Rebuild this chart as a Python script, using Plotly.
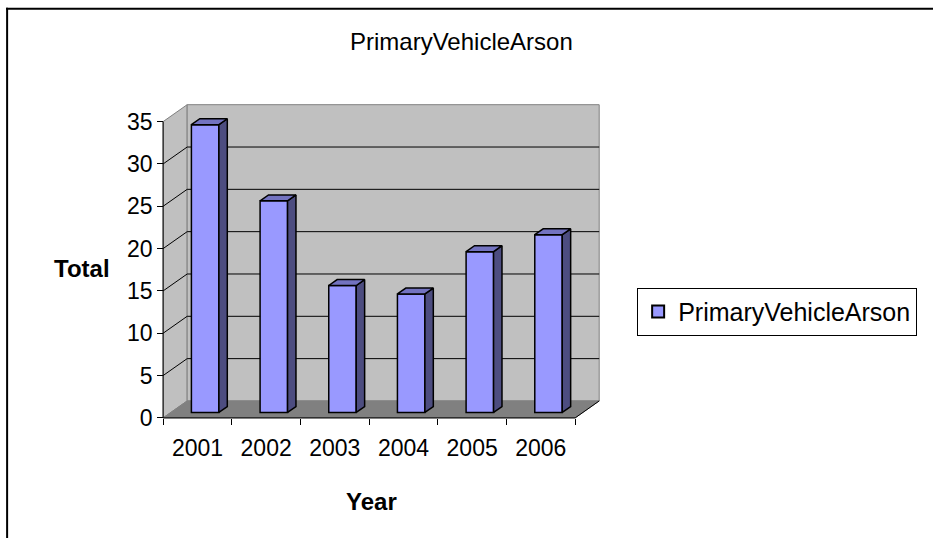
import plotly.graph_objects as go

# ---- data ----
years = ["2001", "2002", "2003", "2004", "2005", "2006"]
totals = [34, 25, 15, 14, 19, 21]
y_ticks = [0, 5, 10, 15, 20, 25, 30, 35]
series_name = "PrimaryVehicleArson"
chart_title = "PrimaryVehicleArson"
x_title = "Year"
y_title = "Total"

# ---- geometry / style ----
W, H = 933, 538
SX, SY = 68.67, 8.46          # px per data unit
X0PIX, Y0PIX = 163, 418       # pixel of data origin (front)
XR = [-0.06, 6.42]
YR = [-0.25, 37.2]
YMAX = 35
DX, DY = 0.35, 2.0            # depth offset (data units) of the back wall
F_FRONT, F_DEPTH = 0.32, 0.35 # bar position in depth
BAR_W = 0.40
FONT = "Liberation Sans, Arial, sans-serif"

plot_w = (XR[1] - XR[0]) * SX
plot_h = (YR[1] - YR[0]) * SY
ml = X0PIX + XR[0] * SX
mr = W - ml - plot_w
mb = H - (Y0PIX - YR[0] * SY)
mt = H - mb - plot_h


def pxp(xp):
    return (xp - ml) / plot_w


def pyp(yp):
    return (H - mb - yp) / plot_h


n = len(years)
fig = go.Figure()

shapes = []
# left wall
shapes.append(dict(type="path", layer="below", xref="x", yref="y",
                   path=f"M0,0 L{DX},{DY} L{DX},{YMAX+DY} L0,{YMAX} Z",
                   fillcolor="#C0C0C0", line=dict(color="#808080", width=1)))
# back wall
shapes.append(dict(type="path", layer="below", xref="x", yref="y",
                   path=f"M{DX},{DY} L{n+DX},{DY} L{n+DX},{YMAX+DY} L{DX},{YMAX+DY} Z",
                   fillcolor="#C0C0C0", line=dict(color="#808080", width=1)))
# floor
shapes.append(dict(type="path", layer="below", xref="x", yref="y",
                   path=f"M0,0 L{n},0 L{n+DX},{DY} L{DX},{DY} Z",
                   fillcolor="#808080", line=dict(color="#808080", width=1)))
# gridlines
for v in y_ticks:
    if v == 0 or v == YMAX:
        continue
    shapes.append(dict(type="line", layer="below", xref="x", yref="y",
                       x0=DX, y0=v + DY, x1=n + DX, y1=v + DY,
                       line=dict(color="black", width=1)))
    shapes.append(dict(type="line", layer="below", xref="x", yref="y",
                       x0=0, y0=v, x1=DX, y1=v + DY,
                       line=dict(color="black", width=1)))
# front axis lines
shapes.append(dict(type="line", layer="below", xref="x", yref="y",
                   x0=0, y0=0, x1=0, y1=YMAX, line=dict(color="black", width=1)))
shapes.append(dict(type="line", layer="below", xref="x", yref="y",
                   x0=0, y0=0, x1=n, y1=0, line=dict(color="black", width=1)))
shapes.append(dict(type="line", layer="below", xref="x", yref="y",
                   x0=n, y0=0, x1=n + DX, y1=DY, line=dict(color="black", width=1)))
# cover for the right edge strip (keeps only top and left border visible)
shapes.append(dict(type="rect", xref="paper", yref="paper", layer="above",
                   x0=pxp(919), y0=pyp(560), x1=pxp(960), y1=pyp(11),
                   fillcolor="white", line=dict(width=0)))
# chart border: only top and left edges are within view
shapes.append(dict(type="line", xref="paper", yref="paper",
                   x0=pxp(6), y0=pyp(9), x1=pxp(1100), y1=pyp(9),
                   line=dict(color="black", width=2)))
shapes.append(dict(type="line", xref="paper", yref="paper",
                   x0=pxp(7), y0=pyp(8), x1=pxp(7), y1=pyp(700),
                   line=dict(color="black", width=2)))

# bars: front face
base = F_FRONT * DY
cx = [i + 0.5 + F_FRONT * DX for i in range(n)]
fig.add_trace(go.Bar(
    x=cx, y=totals, base=[base] * n, width=BAR_W,
    marker=dict(color="#9999FF", line=dict(color="black", width=1.5)),
    name=series_name, showlegend=True, hoverinfo="skip"))

# side and top faces
ddx, ddy = F_DEPTH * DX, F_DEPTH * DY
sx, sy, tx, ty = [], [], [], []
for c, v in zip(cx, totals):
    xr = c + BAR_W / 2
    xl = c - BAR_W / 2
    top = base + v
    sx += [xr, xr + ddx, xr + ddx, xr, xr, None]
    sy += [base, base + ddy, top + ddy, top, base, None]
    tx += [xl, xr, xr + ddx, xl + ddx, xl, None]
    ty += [top, top, top + ddy, top + ddy, top, None]

fig.add_trace(go.Scatter(x=sx, y=sy, mode="lines", fill="toself",
                         fillcolor="#4D4D80", line=dict(color="black", width=1.5),
                         showlegend=False, hoverinfo="skip"))
fig.add_trace(go.Scatter(x=tx, y=ty, mode="lines", fill="toself",
                         fillcolor="#7373C0", line=dict(color="black", width=1.5),
                         showlegend=False, hoverinfo="skip"))

annotations = [
    dict(text=chart_title, xref="paper", yref="paper", x=pxp(461), y=pyp(42),
         xanchor="center", yanchor="middle", showarrow=False,
         font=dict(size=24, color="black", family=FONT)),
    dict(text=f"<b>{y_title}</b>", xref="paper", yref="paper", x=pxp(82), y=pyp(269),
         xanchor="center", yanchor="middle", showarrow=False,
         font=dict(size=24, color="black", family=FONT)),
    dict(text=f"<b>{x_title}</b>", xref="paper", yref="paper", x=pxp(371), y=pyp(502),
         xanchor="center", yanchor="middle", showarrow=False,
         font=dict(size=24, color="black", family=FONT)),
]

fig.update_layout(
    width=W, height=H, autosize=False,
    margin=dict(l=ml, r=mr, t=mt, b=mb, pad=0),
    paper_bgcolor="white", plot_bgcolor="rgba(0,0,0,0)",
    font=dict(family=FONT, size=23, color="black"),
    shapes=shapes, annotations=annotations,
    showlegend=True,
    legend=dict(x=pxp(637), y=pyp(288), xanchor="left", yanchor="top",
                bgcolor="white", bordercolor="black", borderwidth=1,
                font=dict(size=25, family=FONT, color="black"),
                itemsizing="constant"),
    xaxis=dict(range=XR, showgrid=False, zeroline=False, showline=False,
               anchor="free", position=pyp(Y0PIX),
               tickmode="array", tickvals=[i + 0.5 for i in range(n)], ticktext=years,
               ticks="outside", ticklen=10, tickcolor="rgba(0,0,0,0)",
               tickfont=dict(size=23, family=FONT, color="black"),
               minor=dict(tickmode="array", tickvals=list(range(n + 1)),
                          ticks="outside", ticklen=6, tickcolor="black",
                          showgrid=False)),
    yaxis=dict(range=YR, showgrid=False, zeroline=False, showline=False,
               anchor="free", position=pxp(X0PIX),
               tickmode="array", tickvals=y_ticks,
               ticks="outside", ticklen=6, tickcolor="black",
               tickfont=dict(size=23, family=FONT, color="black")),
)

fig.write_html("out.html", config={"displayModeBar": False},
               post_script="document.body.style.margin='0';document.body.style.overflow='hidden';")
